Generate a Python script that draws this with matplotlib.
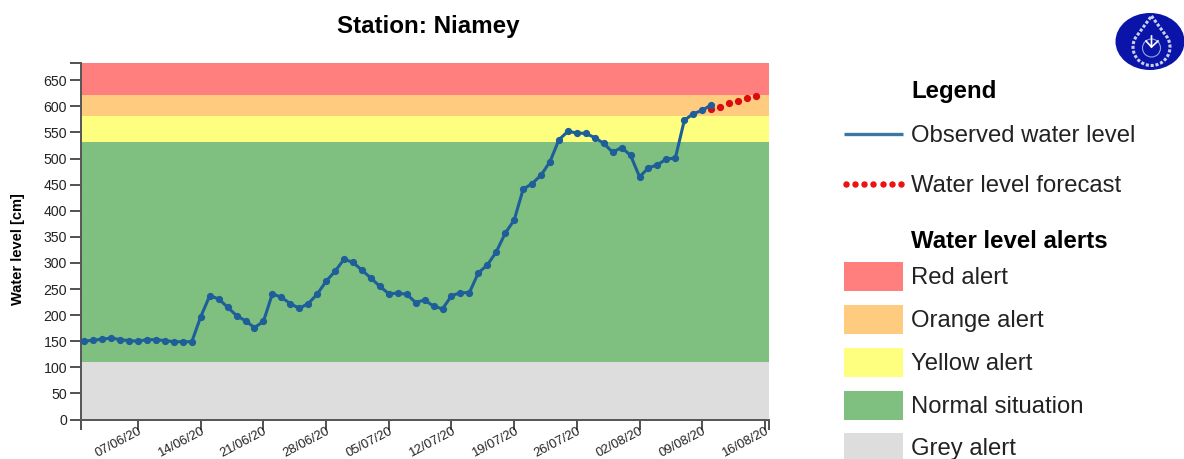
import numpy as np
import pandas as pd
import matplotlib
matplotlib.use('Agg')
import matplotlib.pyplot as plt
import matplotlib.dates as mdates
from matplotlib.patches import Ellipse, Rectangle, Polygon, Circle

plt.rcParams['font.family'] = ['Liberation Sans', 'DejaVu Sans']

# daily water level readings [cm]
observed = [150, 152, 154, 156, 153, 151, 150, 153, 153, 151, 149, 149, 149,
            197, 237, 231, 215, 199, 189, 176, 188, 241, 234, 222, 213, 222, 240,
            265, 284, 307, 301, 286, 271, 255, 241, 242, 240, 224, 229, 217, 212,
            237, 243, 243, 281, 296, 321, 357, 382, 441, 452, 468, 494, 536, 552,
            549, 548, 540, 529, 512, 521, 506, 465, 482, 488, 499, 501, 573, 586,
            592, 603]
forecast = [595, 598, 606, 610, 616, 620]

# alert limits [cm]
band_edges = [0, 110, 531, 582, 622, 683]
band_colors = ['#dddddd', '#7fbf7f', '#ffff7f', '#ffcc7f', '#ff7f7f']
band_names = ['Grey alert', 'Normal situation', 'Yellow alert', 'Orange alert', 'Red alert']

y_ticks = list(range(0, 651, 50))
tick_dates = ['2020-06-07', '2020-06-14', '2020-06-21', '2020-06-28', '2020-07-05', '2020-07-12',
              '2020-07-19', '2020-07-26', '2020-08-02', '2020-08-09', '2020-08-16']

W, H = 1184, 459
fig = plt.figure(figsize=(W / 100, H / 100), dpi=100)
ax = fig.add_axes([81 / W, 1 - 419.5 / H, 688 / W, 356.5 / H])

obs_dates = pd.date_range('2020-06-01', periods=len(observed), freq='D')
fc_dates = pd.date_range(obs_dates[-1], periods=len(forecast), freq='D')

for i in range(len(band_colors)):
    ax.axhspan(band_edges[i], band_edges[i + 1], color=band_colors[i], lw=0, zorder=1)

ax.plot(fc_dates, forecast, color='#dd0a12', ls='none', marker='o', ms=4.2, zorder=3)
ax.plot(obs_dates, observed, color='#1f5f99', lw=2.2, marker='o', ms=4.2, zorder=4)

x0 = pd.Timestamp('2020-05-31 15:00')
x1 = pd.Timestamp('2020-08-16 11:00')
ax.set_xlim(x0, x1)
ax.set_ylim(0, 683)

ax.set_yticks(y_ticks)
ax.set_yticks([683], minor=True)
ax.set_yticklabels([str(v) for v in y_ticks], fontsize=10.2, color='#222222')
ax.set_xticks(pd.to_datetime(tick_dates))
ax.set_xticks([x0, x1], minor=True)
ax.xaxis.set_major_formatter(mdates.DateFormatter('%d/%m/%y'))
ax.xaxis.set_minor_formatter(plt.NullFormatter())
ax.yaxis.set_minor_formatter(plt.NullFormatter())
ax.tick_params(which='both', axis='y', length=8, width=1.2, color='#333333', pad=2)
ax.tick_params(which='both', axis='x', length=7, width=1.2, color='#333333', pad=-3)
for lab in ax.get_xticklabels():
    lab.set_rotation(28)
    lab.set_ha('right')
    lab.set_rotation_mode('anchor')
    lab.set_fontsize(9.4)
    lab.set_color('#222222')

for s in ['top', 'right']:
    ax.spines[s].set_visible(False)
for s in ['left', 'bottom']:
    ax.spines[s].set_color('#555555')
    ax.spines[s].set_linewidth(1.4)

# overlay in pixel coordinates for title, legend and logo
ov = fig.add_axes([0, 0, 1, 1], zorder=5)
ov.set_xlim(0, W)
ov.set_ylim(H, 0)
ov.axis('off')

ov.text(428.5, 27, 'Station: Niamey', fontsize=17.4, fontweight='bold', ha='center', va='center')
ov.text(18.5, 249, 'Water level [cm]', fontsize=10.5, fontweight='bold', rotation=90, ha='center', va='center')

# logo
ov.add_patch(Ellipse((1150, 41.5), 69, 57, color='#0a14a8', lw=0, clip_on=True))
th = np.linspace(np.radians(-30), np.radians(210), 40)
drop_x = 1151.5 + 18.5 * np.cos(th)
drop_y = 47 + 18.5 * np.sin(th)
drop = np.column_stack([np.r_[1151.5, drop_x], np.r_[16, drop_y]])
ov.add_patch(Polygon(drop, closed=True, fill=False, ec='#c9d0f0', lw=2.2, ls=(0, (1, 0.6))))
ov.add_patch(Circle((1151.5, 48), 9, fill=False, ec='#9aa4e0', lw=0.8))
ov.plot([1151.5, 1151.5, 1146], [36, 47, 41], color='white', lw=1.2)
ov.plot([1151.5, 1158], [47, 41], color='white', lw=1.2)

# legend
text_x = 911
ov.text(text_x, 91.5, 'Legend', fontsize=17.3, fontweight='bold', va='center')
ov.plot([843.5, 903], [133.5, 133.5], color='#3a77a5', lw=2.4, solid_capstyle='butt')
ov.text(text_x, 135.5, 'Observed water level', fontsize=17.2, color='#222222', va='center')
ov.plot(np.linspace(845.5, 901, 7), [183.5] * 7, ls='none', marker='o', ms=3.6, color='#ee1111')
ov.text(text_x, 185.5, 'Water level forecast', fontsize=17.2, color='#222222', va='center')
ov.text(text_x, 241.5, 'Water level alerts', fontsize=17.3, fontweight='bold', va='center')

swatch_tops = [262, 305, 348, 391, 433]
for top, name, col in zip(swatch_tops, band_names[::-1], band_colors[::-1]):
    ov.add_patch(Rectangle((843.5, top), 59.5, 29, color=col, lw=0))
    ov.text(text_x, top + 16, name, fontsize=17.2, color='#222222', va='center')

fig.savefig('out.png', dpi=100)
plt.close('all')
